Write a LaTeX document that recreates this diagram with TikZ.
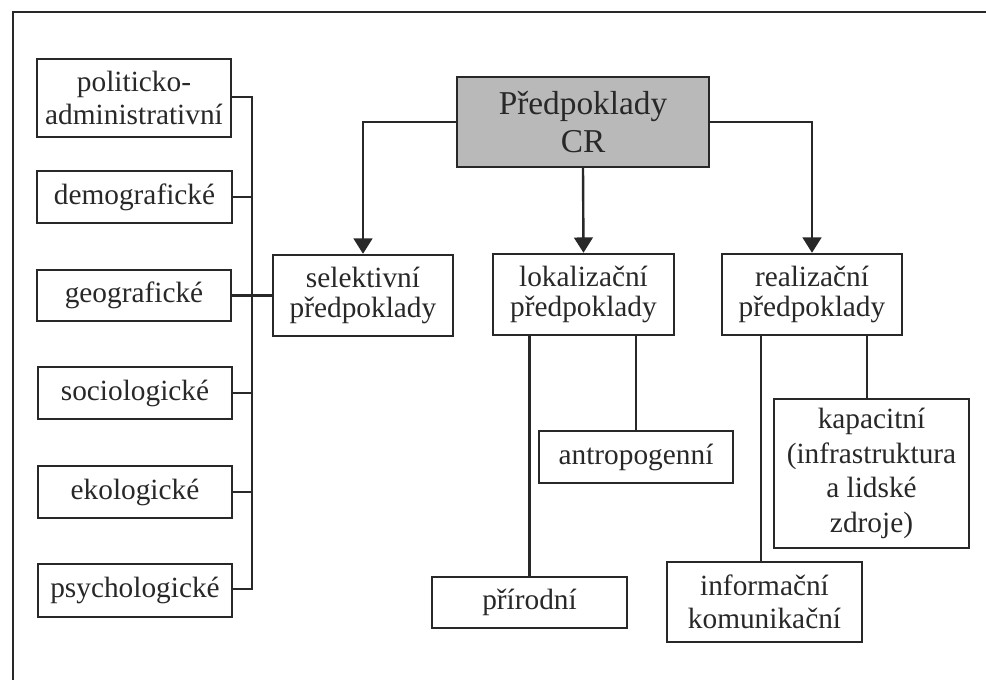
\documentclass[tikz,border=0pt]{standalone}
\usepackage{fontspec}
\setmainfont{Liberation Serif}
\usetikzlibrary{arrows.meta}
\definecolor{ink}{RGB}{40,40,40}
\definecolor{crgray}{RGB}{185,185,185}
\begin{document}
\begin{tikzpicture}[x=0.75pt,y=-0.75pt,
  box/.style={draw=ink, line width=1.8pt, inner sep=0pt, align=center, text=ink,
    font=\fontsize{22}{25}\selectfont},
  sz/.style 2 args={minimum width=#1*0.75pt, minimum height=#2*0.75pt},
  link/.style={draw=ink, line width=1.8pt},
  arr/.style={link, -{Triangle[width=14pt,length=11.5pt]}}]
\useasboundingbox (0,0) rectangle (986,680);
\fill[white] (0,0) rectangle (986,680);
% frame
\draw[link, line width=2pt] (13,680) -- (13,12) -- (986,12);
% left column
\node[box, sz={194}{78}] (pa) at (134,98) {politicko-\\administrativní};
\node[box, sz={195}{52}] (dem) at (134.5,197) {demografické};
\node[box, sz={194}{51}] (geo) at (134,295.5) {geografické};
\node[box, sz={194}{52}] (soc) at (135,393) {sociologické};
\node[box, sz={194}{52}] (eko) at (135,492) {ekologické};
\node[box, sz={194}{53}] (psy) at (135,590.5) {psychologické};
% main
\node[box, sz={252}{90}, fill=crgray, font=\fontsize{25}{28.5}\selectfont] (cr) at (583,122) {Předpoklady\\CR};
\node[box, sz={180}{81}, font=\fontsize{22}{22}\selectfont] (sel) at (363,295.5) {selektivní\\předpoklady};
\node[box, sz={181}{81}, font=\fontsize{22}{22}\selectfont] (lok) at (583.5,294.5) {lokalizační\\předpoklady};
\node[box, sz={180}{81}, font=\fontsize{22}{22}\selectfont] (rea) at (812,294.5) {realizační\\předpoklady};
% sub boxes
\node[box, sz={194}{52}] (ant) at (636,457) {antropogenní};
\node[box, sz={195}{51}] (pri) at (529.5,602.5) {přírodní};
\node[box, sz={195}{149}, font=\fontsize{22}{26}\selectfont] (kap) at (871.5,473.5) {kapacitní\\(infrastruktura\\a lidské\\zdroje)};
\node[box, sz={195}{80}] (inf) at (764.5,602) {informační\\komunikační};
% bracket
\coordinate (bt) at (252,97);
\coordinate (bb) at (252,589);
\draw[link] (pa.east |- bt) -- (bt) -- (bb) -- (psy.east |- bb);
\draw[link] (dem.east) -- (dem.east -| bt);
\draw[link] (soc.east) -- (soc.east -| bt);
\draw[link] (eko.east) -- (eko.east -| bt);
\draw[link] (geo.east) -- (sel.west);
% arrows
\draw[arr] (cr.west) -| (sel.north);
\draw[arr] (cr.south) -- (lok.north);
\draw[arr] (cr.east) -| (rea.north);
% sub links
\draw[link] (pri.north) -- (pri.north |- lok.south);
\draw[link] (ant.north) -- (ant.north |- lok.south);
\draw[link] ([xshift=-2.5pt]inf.north) -- ([xshift=-2.5pt]inf.north |- rea.south);
\draw[link] ([xshift=-3.4pt]kap.north) -- ([xshift=-3.4pt]kap.north |- rea.south);
\end{tikzpicture}
\end{document}
